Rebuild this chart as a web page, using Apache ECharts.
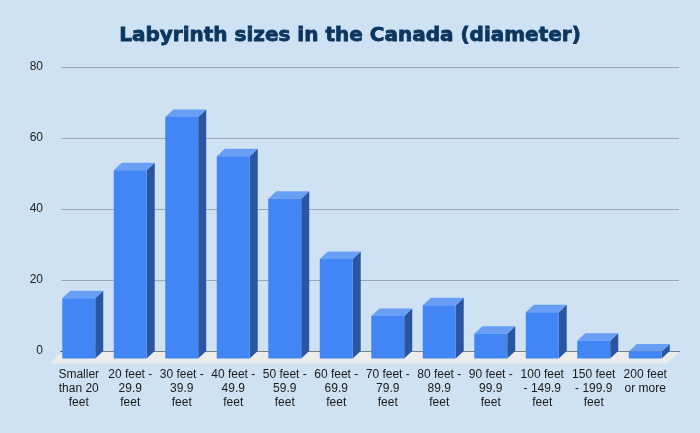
<!DOCTYPE html>
<html>
<head>
<meta charset="utf-8">
<script src="https://cdn.jsdelivr.net/npm/echarts@6/dist/echarts.min.js"></script>
<style>
  html, body { margin: 0; padding: 0; background: #cfe2f3; }
  #chart { width: 700px; height: 433px; }
</style>
</head>
<body>
<div id="chart"></div>
<script>
var categories = [
    'Smaller\nthan 20\nfeet', '20 feet -\n29.9\nfeet', '30 feet -\n39.9\nfeet',
    '40 feet -\n49.9\nfeet', '50 feet -\n59.9\nfeet', '60 feet -\n69.9\nfeet',
    '70 feet -\n79.9\nfeet', '80 feet -\n89.9\nfeet', '90 feet -\n99.9\nfeet',
    '100 feet\n- 149.9\nfeet', '150 feet\n- 199.9\nfeet', '200 feet\nor more'
];
var counts = [17, 53, 68, 57, 45, 28, 12, 15, 7, 13, 5, 2];

// oblique offset of the 3D look
var DX = 8, DY = 7.5;

var myChart = echarts.init(document.getElementById('chart'));

var option = {
    backgroundColor: '#cfe2f3',
    animation: false,
    title: {
        text: 'Labyrinth sizes in the Canada (diameter)',
        left: 'center',
        top: 21,
        textStyle: {
            fontFamily: 'DejaVu Sans',
            fontWeight: 'bold',
            fontSize: 20,
            color: '#0b3660',
            textBorderColor: '#0b3660',
            textBorderWidth: 0.8
        }
    },
    grid: { left: 61, right: 21, top: 67, bottom: 82 },
    xAxis: {
        type: 'category',
        data: categories,
        axisTick: { show: false },
        axisLine: { lineStyle: { color: '#111', width: 1 } },
        axisLabel: {
            interval: 0,
            fontFamily: 'Liberation Sans',
            fontSize: 12,
            lineHeight: 14,
            color: '#1a1a1a',
            margin: 17,
            padding: [0, 16, 0, 0]
        }
    },
    yAxis: {
        type: 'value',
        min: 0,
        max: 80,
        interval: 20,
        axisLine: { show: false },
        axisTick: { show: false },
        splitLine: { lineStyle: { color: '#9aa8b6', width: 1 } },
        axisLabel: {
            fontFamily: 'Liberation Sans',
            fontSize: 12,
            color: '#222',
            margin: 18
        }
    },
    series: [
        {
            // floor under the bars
            type: 'custom',
            z: 1,
            silent: true,
            data: [[0, 0]],
            renderItem: function (params, api) {
                var cs = params.coordSys;
                var y = cs.y + cs.height + 0.5;
                var x0 = cs.x + 1, x1 = cs.x + cs.width;
                return {
                    type: 'polygon',
                    shape: { points: [[x0, y], [x1, y], [x1 - 12, y + 12], [x0 - 12, y + 12]] },
                    style: { fill: '#ececec' }
                };
            }
        },
        {
            type: 'custom',
            z: 3,
            data: counts.map(function (v, i) { return [i, v]; }),
            renderItem: function (params, api) {
                var i = api.value(0), v = api.value(1);
                var base = api.coord([i, 0]);
                var top = api.coord([i, v]);
                var w = api.size([1, 0])[0] * 0.64;
                var x0 = base[0] - w / 2, x1 = base[0] + w / 2;
                var ty = top[1], by = base[1];
                return {
                    type: 'group',
                    children: [
                        {
                            type: 'polygon',
                            shape: { points: [[x1 - DX, ty + DY], [x1, ty], [x1, by], [x1 - DX, by + DY]] },
                            style: { fill: '#2a56a1' }
                        },
                        {
                            type: 'polygon',
                            shape: { points: [[x0 - DX, ty + DY], [x1 - DX, ty + DY], [x1, ty], [x0, ty]] },
                            style: { fill: '#689ff5' }
                        },
                        {
                            type: 'rect',
                            shape: { x: x0 - DX, y: ty + DY, width: w, height: by - ty },
                            style: { fill: '#4285f4' }
                        }
                    ]
                };
            }
        }
    ]
};

myChart.setOption(option);
</script>
</body>
</html>
